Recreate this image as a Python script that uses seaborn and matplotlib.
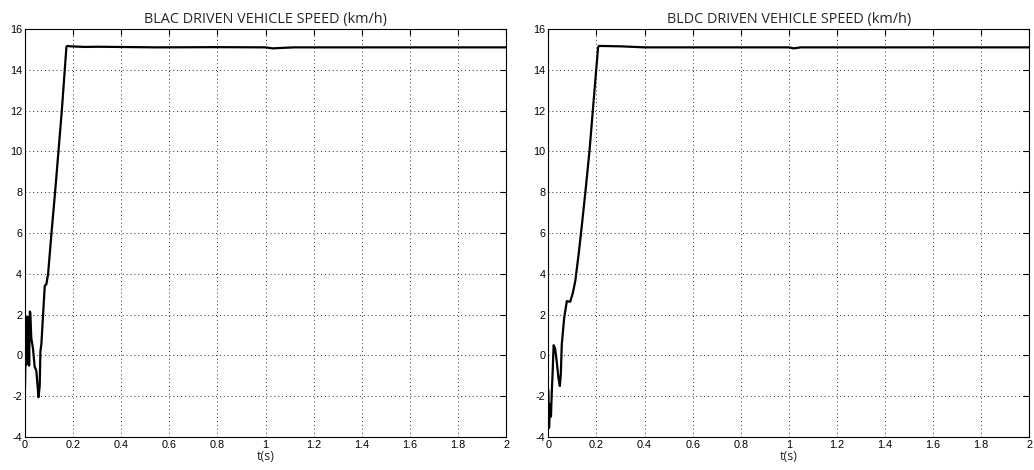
import numpy as np
import pandas as pd
import matplotlib
matplotlib.use("Agg")
import matplotlib.pyplot as plt
import seaborn as sns

# BLAC driven vehicle speed
t_blac = [0.0, 0.003, 0.006, 0.009, 0.011, 0.014, 0.017, 0.020, 0.022, 0.026,
          0.033, 0.040, 0.047, 0.056, 0.061, 0.064, 0.068, 0.075, 0.082, 0.089,
          0.096, 0.110, 0.125, 0.139, 0.153, 0.172, 0.175, 0.19, 0.25, 0.30,
          0.55, 0.80, 1.00, 1.03, 1.08, 1.12, 1.40, 1.70, 2.0]
v_blac = [-1.6, 0.8, -0.45, 1.9, -0.4, 1.85, -0.5, 2.15, 2.1, 0.85,
          0.35, -0.55, -0.75, -2.05, -1.5, 0.2, 0.55, 2.0, 3.4, 3.5,
          4.0, 6.0, 8.0, 10.0, 12.0, 15.1, 15.17, 15.15, 15.12, 15.13,
          15.1, 15.11, 15.1, 15.05, 15.08, 15.1, 15.1, 15.1, 15.1]

# BLDC driven vehicle speed
t_bldc = [0.0, 0.003, 0.007, 0.011, 0.014, 0.018, 0.022, 0.028, 0.035, 0.042,
          0.048, 0.052, 0.056, 0.066, 0.077, 0.091, 0.102, 0.112, 0.119, 0.126,
          0.136, 0.145, 0.154, 0.171, 0.185, 0.199, 0.207, 0.21, 0.30, 0.40,
          0.70, 1.00, 1.02, 1.05, 1.40, 1.70, 2.0]
v_bldc = [-1.7, -3.55, -2.4, -3.0, -1.9, -0.8, 0.5, 0.35, -0.3, -1.1,
          -1.5, -0.9, 0.55, 1.85, 2.66, 2.63, 3.07, 3.64, 4.3, 4.96,
          6.0, 7.0, 8.0, 10.0, 12.0, 14.0, 15.1, 15.17, 15.15, 15.1,
          15.1, 15.1, 15.05, 15.1, 15.1, 15.1, 15.1]

titles = ["BLAC DRIVEN VEHICLE SPEED (km/h)", "BLDC DRIVEN VEHICLE SPEED (km/h)"]

sns.set_style("white")
plt.rcParams['font.family'] = ['Liberation Sans', 'DejaVu Sans']

fig = plt.figure(figsize=(10.34, 4.70), dpi=100)
ax1 = fig.add_axes([0.0242, 0.0702, 0.4652, 0.8681])
ax2 = fig.add_axes([0.5303, 0.0702, 0.4652, 0.8681])

for ax, t, v, title in zip([ax1, ax2], [t_blac, t_bldc], [v_blac, v_bldc], titles):
    df = pd.DataFrame({"t": t, "v": v})
    sns.lineplot(data=df, x="t", y="v", ax=ax, color="black", lw=1.6,
                 estimator=None, sort=False)
    ax.set_xlim(0, 2)
    ax.set_ylim(-4, 16)
    ax.set_xticks(np.arange(0, 2.01, 0.2))
    ax.set_yticks(np.arange(-4, 16.1, 2))
    ax.set_xticklabels(["0", "0.2", "0.4", "0.6", "0.8", "1", "1.2", "1.4", "1.6", "1.8", "2"])
    ax.set_yticklabels([str(int(y)) for y in np.arange(-4, 16.1, 2)])
    ax.grid(True, color="0.2", linestyle=(0, (1, 3)), linewidth=0.7)
    ax.tick_params(direction="in", length=4, width=0.8, labelsize=7.8,
                   top=True, right=True, pad=2, colors="black")
    for s in ax.spines.values():
        s.set_color("black")
        s.set_linewidth(0.8)
    ax.set_title(title, fontsize=10.4, family=["Open Sans", "DejaVu Sans"], pad=4)
    ax.set_xlabel("t(s)", fontsize=9, family=["Open Sans", "DejaVu Sans"], labelpad=0)
    ax.set_ylabel("")

fig.savefig("out.png", dpi=100, facecolor="white")
